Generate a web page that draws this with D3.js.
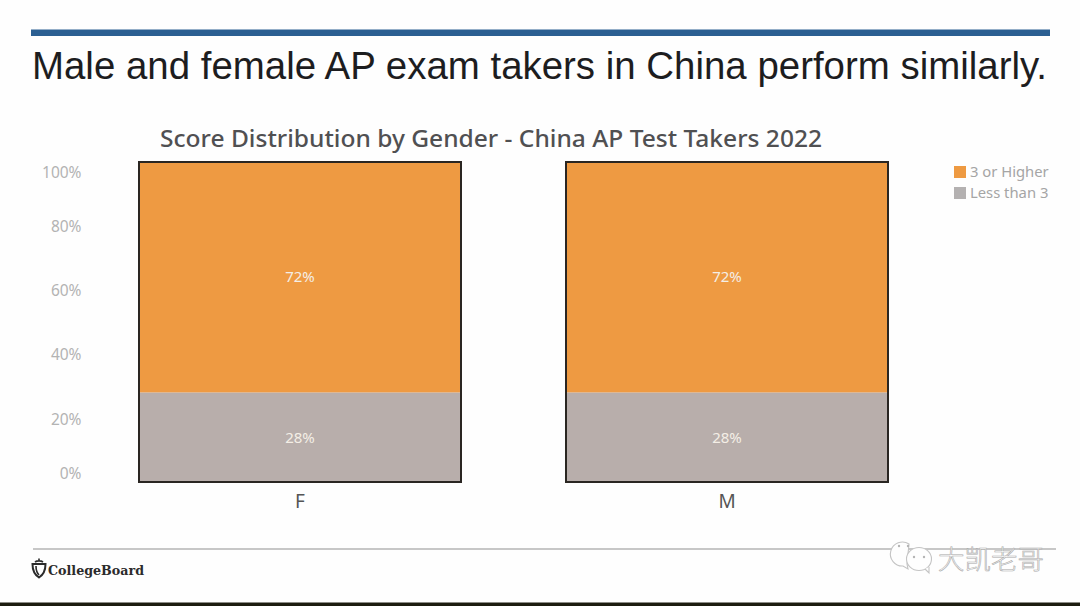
<!DOCTYPE html>
<html><head><meta charset="utf-8">
<script src="https://cdnjs.cloudflare.com/ajax/libs/d3/7.8.5/d3.min.js"></script>
<style>
html,body{margin:0;padding:0;background:#fff;overflow:hidden}
svg{display:block}
text{font-family:"Noto Sans",sans-serif}
</style></head><body>
<svg id="c" width="1080" height="606"></svg>
<script>
const genders = ["F", "M"];
const lessThan3 = [28, 28];
const threeOrHigher = [72, 72];
const seriesNames = ["Less than 3", "3 or Higher"];
const legendOrder = ["3 or Higher", "Less than 3"];
const seriesColors = ["#b8aeab", "#ee9a42"];
const tickValues = [0, 20, 40, 60, 80, 100];
const slideTitle = "Male and female AP exam takers in China perform similarly.";
const chartTitle = "Score Distribution by Gender - China AP Test Takers 2022";

const svg = d3.select("#c");
svg.append("rect").attr("width",1080).attr("height",606).attr("fill","#fefefe");

// slide furniture
svg.append("rect").attr("x",31).attr("y",29.5).attr("width",1019).attr("height",6.5).attr("fill","#2b5f92");
svg.append("text").attr("x",32).attr("y",79).attr("textLength",1015).attr("lengthAdjust","spacingAndGlyphs")
  .style("font-family","'Liberation Sans'").style("font-size","38px").attr("fill","#1d1d1f").text(slideTitle);
svg.append("text").attr("x",160).attr("y",147).attr("textLength",662).attr("lengthAdjust","spacingAndGlyphs")
  .style("font-size","24px").style("font-weight",500).attr("fill","#505052").text(chartTitle);

const x = d3.scaleBand().domain(genders).range([139,888]).paddingInner(105/427).paddingOuter(0);
const y = d3.scaleLinear().domain([0,100]).range([482,162]);
const color = d3.scaleOrdinal().domain(seriesNames).range(seriesColors);

const rows = genders.map((g,i)=>({gender:g,"Less than 3":lessThan3[i],"3 or Higher":threeOrHigher[i]}));
const stacked = d3.stack().keys(seriesNames)(rows);

const layers = svg.append("g").selectAll("g").data(stacked).join("g").attr("fill",d=>color(d.key));
layers.selectAll("rect").data(d=>d).join("rect")
  .attr("x",d=>x(d.data.gender)).attr("width",x.bandwidth())
  .attr("y",d=>y(d[1])).attr("height",d=>y(d[0])-y(d[1]));

// outlines
svg.append("g").selectAll("rect").data(genders).join("rect")
  .attr("x",d=>x(d)).attr("y",y(100)).attr("width",x.bandwidth()).attr("height",y(0)-y(100))
  .attr("fill","none").attr("stroke","#2a2622").attr("stroke-width",2);

// value labels
layers.selectAll("text").data(d=>d).join("text")
  .attr("x",d=>x(d.data.gender)+x.bandwidth()/2)
  .attr("y",d=>(y(d[0])+y(d[1]))/2 + (d[0]===0 ? 1 : 0))
  .attr("dy","0.35em").attr("text-anchor","middle")
  .attr("fill","#f4eee6").style("font-size","15px")
  .text(d=>(d[1]-d[0])+"%");

// y axis
const yAxis = svg.append("g").attr("transform","translate(81.5,0)")
  .call(d3.axisLeft(y).tickValues(tickValues).tickSize(0).tickPadding(0).tickFormat(d=>d+"%"));
yAxis.select(".domain").remove();
yAxis.selectAll("text").style("font-size","15.5px").attr("fill","#b3b3b3")
  .attr("transform",d=>d===100?"translate(0,11)":d===0?"translate(0,-8)":d===20?"translate(0,2)":"translate(0,1)");

// x axis
const xAxis = svg.append("g").attr("transform","translate(0,482)")
  .call(d3.axisBottom(x).tickSize(0).tickPadding(13));
xAxis.select(".domain").remove();
xAxis.selectAll("text").style("font-size","19px").attr("fill","#555");

// legend
const lg = svg.append("g").selectAll("g").data(legendOrder).join("g")
  .attr("transform",(d,i)=>`translate(940,${172+i*21})`);
lg.append("rect").attr("x",14).attr("y",-6).attr("width",12).attr("height",12).attr("fill",(d,i)=>i===0?seriesColors[1]:"#b4b1b1");
lg.append("text").attr("x",30).attr("dy","0.35em").style("font-size","14.8px").attr("fill","#a5a5a5").text(d=>d);

// footer
svg.append("line").attr("x1",33).attr("x2",1056).attr("y1",549).attr("y2",549).attr("stroke","#b4b4b4").attr("stroke-width",1.6);
const acorn = svg.append("g").attr("transform","translate(39,569)").attr("fill","none").attr("stroke","#2b2b2b").attr("stroke-width",2);
acorn.append("path").attr("d","M-6.5,-5 L6.5,-5 C6.5,2 4,6 0,8.5 C-4,6 -6.5,2 -6.5,-5 Z");
acorn.append("path").attr("d","M-3,-3 C-3,2 -1.5,4.5 0,6").attr("stroke-width",1.6);
acorn.append("path").attr("d","M-4,-7 C-2,-8.5 2,-8.5 4,-7 M0,-8 L0,-10.5").attr("stroke-width",1.6);
svg.append("text").attr("x",48).attr("y",575).attr("textLength",96).attr("lengthAdjust","spacingAndGlyphs")
  .style("font-family","'DejaVu Serif'").style("font-weight",700).style("font-size","13.5px").attr("fill","#2b2b2b").text("CollegeBoard");

// watermark
const wm = svg.append("g").attr("fill","#fefefe").attr("stroke","#c4c4c4").attr("stroke-width",1.1);
wm.append("path").attr("d","M909,544 a12,12 0 1 0 -6,22 l5,3 l-1,-5 Z");
wm.append("ellipse").attr("cx",919).attr("cy",559).attr("rx",12.5).attr("ry",11.5);
wm.append("path").attr("d","M925,569 l4,4 l0,-6");
svg.append("g").attr("fill","#b5b5b5").selectAll("circle").data([[899,546],[908,546],[914,557],[924,557]]).join("circle")
  .attr("cx",d=>d[0]).attr("cy",d=>d[1]).attr("r",1.2);
svg.append("text").attr("x",938).attr("y",569).style("font-family","'Noto Sans CJK SC'").style("font-size","26.5px").style("font-weight",300)
  .attr("fill","#fefefe").attr("stroke","#a9a9a9").attr("stroke-width",0.6).text("大凯老哥");

svg.append("rect").attr("x",0).attr("y",602.5).attr("width",1080).attr("height",3.5).attr("fill","#1c1c10");
</script>
</body></html>
